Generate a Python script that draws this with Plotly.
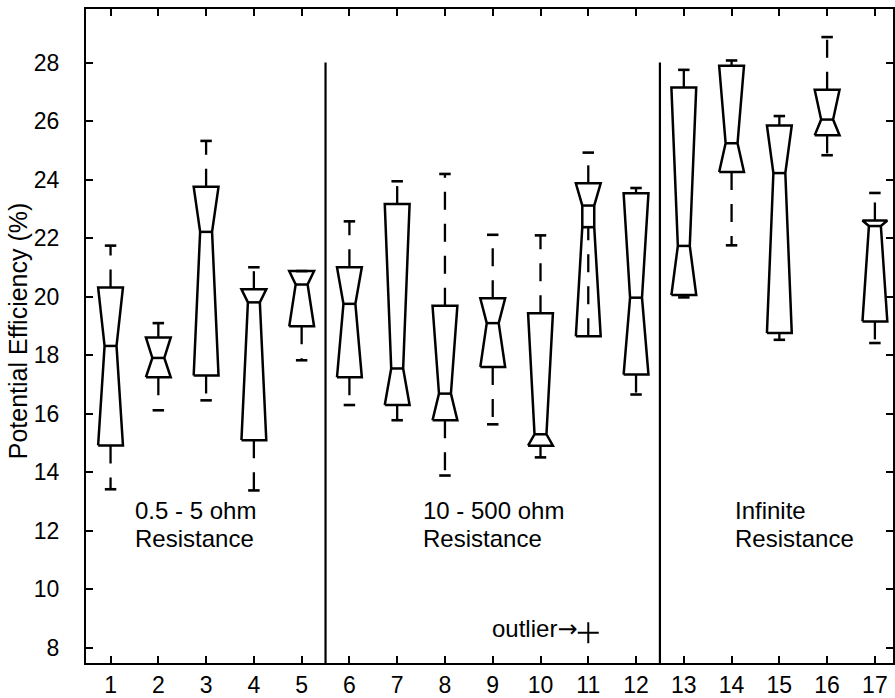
import plotly.graph_objects as go

# ---------------- data ----------------
samples = list(range(1, 18))
q1 = [14.91, 17.24, 17.30, 15.09, 18.98, 17.24, 16.29, 15.77, 17.59, 14.90,
      18.64, 17.33, 20.05, 24.26, 18.75, 25.51, 19.15]
median = [18.31, 17.90, 22.21, 19.80, 20.41, 19.75, 17.54, 16.68, 19.09, 15.29,
          23.11, 19.96, 21.73, 25.24, 24.22, 26.05, 22.41]
q3 = [20.31, 18.60, 23.75, 20.25, 20.87, 21.00, 23.16, 19.68, 19.94, 19.43,
      23.87, 23.53, 27.15, 27.89, 25.85, 27.07, 22.60]
upper_adj = [21.74, 19.09, 25.32, 21.00, 20.87, 22.57, 23.94, 24.19, 22.11, 22.09,
             24.92, 23.71, 27.75, 28.07, 26.17, 28.87, 23.54]
lower_adj = [13.41, 16.11, 16.45, 13.37, 17.82, 16.29, 15.77, 13.88, 15.63, 14.50,
             22.37, 16.65, 19.97, 21.75, 18.52, 24.83, 18.41]
outlier_x = [11]
outlier_y = [8.50]

group_sizes = [5, 7, 5]
group_line1 = ["0.5 - 5 ohm", "10 - 500 ohm", "Infinite"]
group_line2 = ["Resistance", "Resistance", "Resistance"]
group_label_x = [1.47, 7.50, 14.04]

y_ticks = list(range(8, 29, 2))
y_title = "Potential Efficiency (%)"
outlier_word = "outlier"
outlier_arrow = "\u2192"

# ---------------- styling ----------------
FONT = "Arial, 'Liberation Sans', Helvetica, sans-serif"
HW = 0.26    # box half width
NW = 0.125   # notch half width
CW = 0.12    # whisker cap half width

bx, by = [], []
mx, my = [], []
cx, cy = [], []
wx, wy = [], []
for c, a, m, b, hi, lo in zip(samples, q1, median, q3, upper_adj, lower_adj):
    nl = lo if (a < lo < m) else m
    bx += [c - HW, c - NW, c - NW, c - HW, c + HW, c + NW, c + NW, c + HW, c - HW, None]
    by += [a, nl, m, b, b, m, nl, a, a, None]
    mx += [c - NW, c + NW, None]
    my += [m, m, None]
    if hi > b:
        wx += [c, c, None]
        wy += [b, hi, None]
    cx += [c - CW, c + CW, None]
    cy += [hi, hi, None]
    if lo != a:
        wx += [c, c, None]
        wy += [a, lo, None]
    cx += [c - CW, c + CW, None]
    cy += [lo, lo, None]

fig = go.Figure()
fig.add_trace(go.Scatter(x=wx, y=wy, mode="lines",
                         line=dict(color="black", width=2.3, dash="18px,14px"),
                         hoverinfo="skip", showlegend=False))
fig.add_trace(go.Scatter(x=bx, y=by, mode="lines",
                         line=dict(color="black", width=2.5),
                         hoverinfo="skip", showlegend=False))
fig.add_trace(go.Scatter(x=mx, y=my, mode="lines",
                         line=dict(color="black", width=2.5),
                         hoverinfo="skip", showlegend=False))
fig.add_trace(go.Scatter(x=cx, y=cy, mode="lines",
                         line=dict(color="black", width=2.6),
                         hoverinfo="skip", showlegend=False))
fig.add_trace(go.Scatter(x=outlier_x, y=outlier_y, mode="markers",
                         marker=dict(symbol="cross-thin", size=15, color="black",
                                     line=dict(color="black", width=2)),
                         hoverinfo="skip", showlegend=False))

# group separators
shapes = []
edge = 0
for gs in group_sizes[:-1]:
    edge += gs
    shapes.append(dict(type="line", xref="x", yref="y", x0=edge + 0.5, x1=edge + 0.5,
                       y0=y_ticks[-1], y1=7.0, line=dict(color="black", width=2.2)))

annotations = []
for xl, t1, t2 in zip(group_label_x, group_line1, group_line2):
    annotations.append(dict(x=xl, y=12.69, xref="x", yref="y", text=t1, showarrow=False,
                            xanchor="left", yanchor="middle",
                            font=dict(family=FONT, size=24, color="black")))
    annotations.append(dict(x=xl, y=11.74, xref="x", yref="y", text=t2, showarrow=False,
                            xanchor="left", yanchor="middle",
                            font=dict(family=FONT, size=24, color="black")))
annotations.append(dict(x=outlier_x[0], y=8.62, xref="x", yref="y",
                        text=outlier_word + "<span style=\"font-family:'DejaVu Sans'\">"
                        + outlier_arrow + "</span>",
                        showarrow=False, xanchor="right", yanchor="middle", xshift=-9,
                        font=dict(family=FONT, size=24, color="black")))
annotations.append(dict(x=-0.084, y=0.5076, xref="paper", yref="paper", text=y_title,
                        showarrow=False, textangle=-90, xanchor="center", yanchor="middle",
                        font=dict(family=FONT, size=25, color="black")))

fig.update_layout(
    width=895, height=698,
    margin=dict(l=86, r=0, t=9, b=31, pad=0),
    paper_bgcolor="white", plot_bgcolor="white",
    shapes=shapes, annotations=annotations,
    font=dict(family=FONT, color="black"),
)
fig.update_xaxes(range=[0.486, 17.379], tickmode="array", tickvals=samples,
                 ticktext=[str(s) for s in samples],
                 ticks="inside", ticklen=7, tickwidth=2, tickcolor="black",
                 showline=True, linewidth=2.2, linecolor="black", mirror="ticks",
                 showgrid=False, zeroline=False,
                 tickfont=dict(family=FONT, size=23, color="black"))
fig.update_yaxes(range=[7.47, 29.83], tickmode="array", tickvals=y_ticks,
                 ticks="inside", ticklen=7, tickwidth=2, tickcolor="black",
                 showline=True, linewidth=2.2, linecolor="black", mirror="ticks",
                 showgrid=False, zeroline=False, ticklabelstandoff=20,
                 tickfont=dict(family=FONT, size=23, color="black"))

fig.write_html("out.html")
